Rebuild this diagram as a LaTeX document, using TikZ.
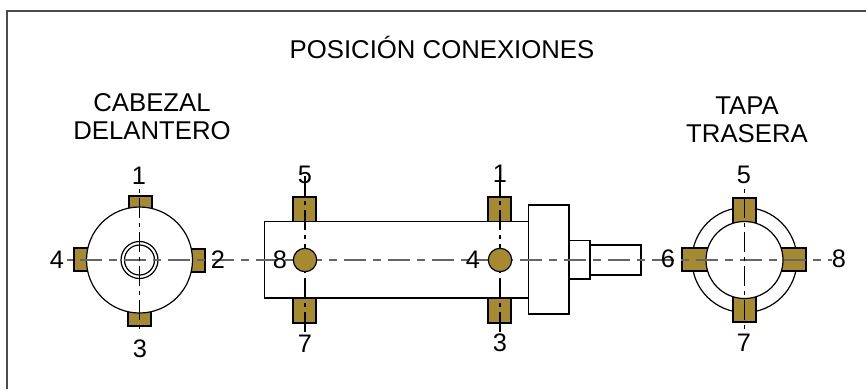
\documentclass[tikz,border=0pt]{standalone}
\usepackage{fontspec}
\setmainfont{Liberation Sans}
\definecolor{brass}{HTML}{A58A30}
\tikzset{
  part/.style={draw=black, fill=white, line width=0.9pt},
  port/.style={draw=black, fill=brass, line width=0.9pt},
  axish/.style={draw=black!60, line width=1pt, dash pattern=on 16.5pt off 5.25pt on 6pt off 5.25pt, dash phase=23.25pt},
  axisv/.style={draw=black, line width=0.8pt, dash pattern=on 15pt off 3.75pt on 3pt off 3.75pt},
  num/.style={font=\fontsize{19}{19}\selectfont, inner sep=0pt},
  title/.style={font=\fontsize{19.3}{21}\selectfont, inner sep=0pt, align=center}
}
\begin{document}
\begin{tikzpicture}[x=0.75pt,y=-0.75pt]
\useasboundingbox (0,0) rectangle (866,389);
% Frame
\draw[line width=1pt, draw=black!70] (7,389) -- (7,11) -- (866,11);
% Titles
\node[title] (main) at (442,47) {POSICIÓN CONEXIONES};
\node[title] (front) at (152,117) {CABEZAL\\DELANTERO};
\node[title] (back) at (747,120) {TAPA\\TRASERA};
% Front head
\filldraw[port] (129,196) rectangle (152,212);
\filldraw[port] (128,310) rectangle (151,326);
\filldraw[port] (74,248) rectangle (90,271);
\filldraw[port] (189,249) rectangle (205,272);
\filldraw[part] (139.5,260) circle (53);
\filldraw[part] (139.5,260) circle (18.5);
\filldraw[part] (139.5,260) circle (15);
% Cylinder
\filldraw[port] (293,197) rectangle (316,225);
\filldraw[port] (488,197) rectangle (511,225);
\filldraw[port] (293,295) rectangle (316,323);
\filldraw[port] (488,295) rectangle (511,323);
\filldraw[part] (264.5,221.5) rectangle (528.5,298);
\filldraw[part] (528.5,205) rectangle (569,314);
\filldraw[part] (569,240.5) rectangle (590,279);
\filldraw[part] (590,245) rectangle (641,275);
% Rear cover
\filldraw[part] (744.5,260) circle (52.5);
\filldraw[port] (733,198) rectangle (756,226);
\filldraw[port] (733,294) rectangle (756,322);
\filldraw[port] (682,248) rectangle (710,271);
\filldraw[port] (779,248) rectangle (806,271);
\filldraw[part] (744.5,260) circle (38.5);
% Center lines
\coordinate (axstart) at (67,260);
\coordinate (axend) at (832,260);
\draw[axish] (axstart) -- (axend);
\coordinate (fronttop) at (139.5,189);
\coordinate (frontbot) at (139.5,333);
\coordinate (cyltopa) at (305,176);
\coordinate (cylbota) at (305,335);
\coordinate (cyltopb) at (500,176);
\coordinate (cylbotb) at (500,335);
\coordinate (reartop) at (744.5,189);
\coordinate (rearbot) at (744.5,333);
\draw[axisv, dash phase=18.75pt] (fronttop) -- (frontbot);
\draw[axisv] (cyltopa) -- (cylbota);
\draw[axisv] (cyltopb) -- (cylbotb);
\draw[axisv, dash phase=18.75pt] (reartop) -- (rearbot);
% Plugs on the side
\filldraw[port] (305,260) circle (11.7);
\filldraw[port] (500,260) circle (11.7);
% Numbers
\node[num] (fa) at (139,176) {1};
\node[num] (fb) at (218,260) {2};
\node[num] (fc) at (140,349) {3};
\node[num] (fd) at (57,260) {4};
\node[num] (ca) at (305,175) {5};
\node[num] (cb) at (305,344) {7};
\node[num] (cc) at (280,260) {8};
\node[num] (cd) at (500,174) {1};
\node[num] (ce) at (500,343) {3};
\node[num] (cf) at (473,260) {4};
\node[num] (ra) at (744,175) {5};
\node[num] (rb) at (744,343) {7};
\node[num] (rc) at (668,259) {6};
\node[num] (rd) at (839,259) {8};
\end{tikzpicture}
\end{document}
